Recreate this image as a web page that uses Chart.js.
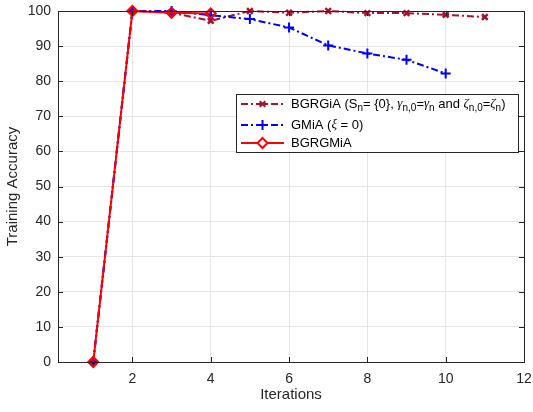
<!DOCTYPE html>
<html>
<head>
<meta charset="utf-8">
<script src="https://cdn.jsdelivr.net/npm/chart.js@4"></script>
<style>
  html, body { margin: 0; padding: 0; background: #fff; }
  #wrap { width: 533px; height: 412px; }
</style>
</head>
<body>
<div id="wrap"><canvas id="myChart" width="533" height="412"></canvas></div>
<script>
var iterations = [1, 2, 3, 4, 5, 6, 7, 8, 9, 10, 11];
var bgrgia = [0, 100, 99.5, 97.2, 100, 99.5, 100, 99.4, 99.4, 98.9, 98.3];
var gmia = [0, 100, 100, 98.8, 97.7, 95.3, 90.2, 87.9, 86.1, 82.2];
var bgrgmia = [0, 100, 99.5, 99.3];
var xTicks = [2, 4, 6, 8, 10, 12];

var darkRed = '#a2142f';
var axisColor = '#262626';
var font = 'Liberation Sans, Arial, sans-serif';

function toPoints(values) {
    return values.map(function (v, i) { return { x: iterations[i], y: v }; });
}

// legend rows, with subscripts as separate pieces
var legendRows = [
    { color: darkRed, dash: [7, 3, 2, 3], marker: 'star', parts: [
        ['BGRGiA (S'], ['n', 'sub'], ['= {0}, '], ['\u03b3', 'greek'], ['n,0', 'sub'], ['='], ['\u03b3', 'greek'], ['n', 'sub'],
        [' and '], ['\u03b6', 'greek'], ['n,0', 'sub'], ['='], ['\u03b6', 'greek'], ['n', 'sub'], [')']
    ], y: 104 },
    { color: '#0000ff', dash: [7, 3, 2, 3], marker: 'cross', parts: [['GMiA ('], ['\u03be', 'greek'], [' = 0)']], y: 125 },
    { color: '#ff0000', dash: [], marker: 'diamond', parts: [['BGRGMiA']], y: 143 }
];

var frame = {
    id: 'frame',
    afterDraw: function (chart) {
        var ctx = chart.ctx, a = chart.chartArea;
        var xs = chart.scales.x, ys = chart.scales.y;
        ctx.save();
        ctx.strokeStyle = axisColor;
        ctx.lineWidth = 1;
        ctx.strokeRect(Math.round(a.left) + 0.5, Math.round(a.top) + 0.5, Math.round(a.right - a.left), Math.round(a.bottom - a.top));
        // inward tick marks
        ctx.beginPath();
        xTicks.forEach(function (t) {
            var px = Math.round(xs.getPixelForValue(t)) + 0.5;
            ctx.moveTo(px, a.bottom); ctx.lineTo(px, a.bottom - 5);
            ctx.moveTo(px, a.top); ctx.lineTo(px, a.top + 5);
        });
        for (var v = 0; v <= 100; v += 10) {
            var py = Math.round(ys.getPixelForValue(v)) + 0.5;
            ctx.moveTo(a.left, py); ctx.lineTo(a.left + 5, py);
            ctx.moveTo(a.right, py); ctx.lineTo(a.right - 5, py);
        }
        ctx.stroke();

        // legend
        var bx = 236.5, by = 94.5, bw = 282, bh = 58;
        ctx.fillStyle = '#fff';
        ctx.fillRect(bx, by, bw, bh);
        ctx.strokeRect(bx, by, bw, bh);
        legendRows.forEach(function (row) {
            ctx.strokeStyle = row.color;
            ctx.lineWidth = 2;
            ctx.setLineDash(row.dash);
            ctx.beginPath();
            ctx.moveTo(241, row.y); ctx.lineTo(284, row.y);
            ctx.stroke();
            ctx.setLineDash([]);
            var mx = 262.5, my = row.y;
            ctx.beginPath();
            if (row.marker === 'star') {
                var r = 4;
                ctx.moveTo(mx - r, my); ctx.lineTo(mx + r, my);
                ctx.moveTo(mx - r * 0.7, my - r * 0.7); ctx.lineTo(mx + r * 0.7, my + r * 0.7);
                ctx.moveTo(mx - r * 0.7, my + r * 0.7); ctx.lineTo(mx + r * 0.7, my - r * 0.7);
                ctx.stroke();
            } else if (row.marker === 'cross') {
                ctx.moveTo(mx - 5, my); ctx.lineTo(mx + 5, my);
                ctx.moveTo(mx, my - 5); ctx.lineTo(mx, my + 5);
                ctx.stroke();
            } else {
                ctx.moveTo(mx, my - 5); ctx.lineTo(mx + 5, my); ctx.lineTo(mx, my + 5); ctx.lineTo(mx - 5, my); ctx.closePath();
                ctx.fillStyle = '#fff';
                ctx.fill();
                ctx.stroke();
            }
            var tx = 291;
            ctx.fillStyle = '#000';
            ctx.textBaseline = 'middle';
            ctx.textAlign = 'left';
            row.parts.forEach(function (p) {
                var ty = row.y;
                if (p[1] === 'sub') {
                    ctx.font = '10px ' + font;
                    ty = row.y + 4;
                } else if (p[1] === 'greek') {
                    ctx.font = 'italic 13px Liberation Serif, serif';
                } else {
                    ctx.font = '13px ' + font;
                }
                ctx.fillText(p[0], tx, ty);
                tx += ctx.measureText(p[0]).width;
            });
        });
        ctx.restore();
    }
};

var ctx = document.getElementById('myChart');
var myChart = new Chart(ctx, {
    type: 'line',
    data: {
        datasets: [
            {
                label: 'BGRGMiA',
                data: toPoints(bgrgmia),
                borderColor: '#ff0000',
                borderWidth: 2,
                pointStyle: 'rectRot',
                pointRadius: 5,
                pointBorderWidth: 2,
                pointBackgroundColor: 'rgba(255,255,255,0)',
                pointBorderColor: '#ff0000',
                order: 0
            },
            {
                label: 'GMiA',
                data: toPoints(gmia),
                borderColor: '#0000ff',
                borderWidth: 2,
                borderDash: [7, 3, 2, 3],
                pointStyle: 'cross',
                pointRadius: 5,
                pointBorderWidth: 2,
                pointBorderColor: '#0000ff',
                order: 1
            },
            {
                label: 'BGRGiA',
                data: toPoints(bgrgia),
                borderColor: darkRed,
                borderWidth: 2,
                borderDash: [7, 3, 2, 3],
                pointStyle: 'crossRot',
                pointRadius: 4,
                pointBorderWidth: 2.5,
                pointBorderColor: darkRed,
                order: 2
            }
        ]
    },
    options: {
        responsive: false,
        animation: false,
        clip: false,
        layout: { padding: { top: 11, right: 9, left: 0, bottom: 0 } },
        plugins: {
            legend: { display: false },
            tooltip: { enabled: false }
        },
        scales: {
            x: {
                type: 'linear',
                min: 0.1,
                max: 12,
                afterBuildTicks: function (scale) {
                    scale.ticks = xTicks.map(function (v) { return { value: v }; });
                },
                afterFit: function (scale) {
                    scale.height = 50;
                    scale.paddingLeft = 0;
                    scale.paddingRight = 0;
                },
                grid: { color: '#e6e6e6', drawTicks: false },
                border: { display: false },
                ticks: { padding: 9, color: axisColor, font: { family: font, size: 14 } },
                title: { display: true, text: 'Iterations', color: axisColor, padding: { top: 0, bottom: 8 }, font: { family: font, size: 15 } }
            },
            y: {
                min: 0,
                max: 100,
                afterFit: function (scale) {
                    scale.width = 58;
                    scale.paddingTop = 0;
                    scale.paddingBottom = 0;
                },
                grid: { color: '#e6e6e6', drawTicks: false },
                border: { display: false },
                ticks: { stepSize: 10, padding: 7, color: axisColor, font: { family: font, size: 14 } },
                title: { display: true, text: 'Training Accuracy', color: axisColor, padding: { top: 4, bottom: 0 }, font: { family: font, size: 15 } }
            }
        }
    },
    plugins: [frame]
});
</script>
</body>
</html>
